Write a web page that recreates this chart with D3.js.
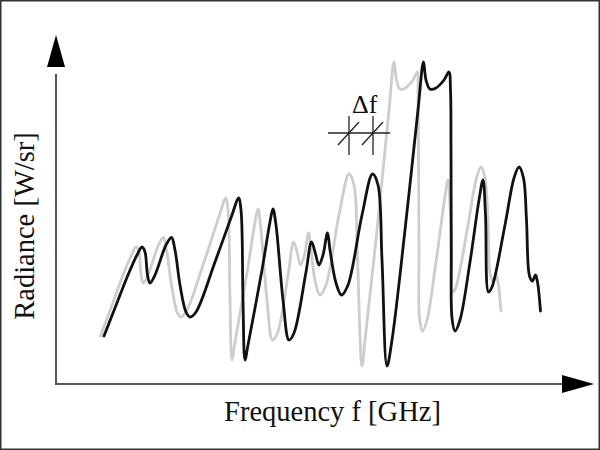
<!DOCTYPE html>
<html>
<head>
<meta charset="utf-8">
<script src="https://cdn.jsdelivr.net/npm/d3@7"></script>
<style>
  html, body { margin: 0; padding: 0; background: #fff; }
  svg { display: block; }
</style>
</head>
<body>
<svg id="chart" width="600" height="450"></svg>
<script>
// Measured spectrum (frequency in arbitrary units, radiance in arbitrary units)
const blackFreq = [48, 59, 72, 81, 86, 89, 91.5, 94, 99, 110, 115.5, 119, 124, 130, 134, 140, 159, 176, 182.5, 185, 187, 189, 192, 206, 214, 217, 220, 227, 233, 238, 250, 255.5, 259, 263, 267, 271.5, 274, 280, 285.5, 292, 306, 316.5, 322, 326, 331, 336, 349, 362, 367.5, 370, 374, 380, 388, 393, 394.5, 395, 395.3, 396, 399, 404, 414, 423, 427, 429.5, 432.5, 436, 449, 458, 463, 467.5, 470.5, 473.5, 476.5, 479.5, 481.5, 484.5];
const blackRad  = [48, 76, 109, 129, 137, 132, 109, 101, 109, 139, 146.5, 134, 99, 72, 67, 72, 122, 169, 186, 174, 84, 24, 39, 114, 162, 175, 159, 84, 44, 51, 112, 142, 132, 119, 129, 151, 134, 101, 89, 99, 169, 210, 199, 124, 18, 44, 154, 274, 322, 304, 295, 296, 304, 312, 294, 234, 134, 66, 53, 64, 122, 184, 204, 169, 92, 97, 159, 206, 217, 206, 164, 108, 103, 109, 102, 73];

// Frequency-shifted spectrum (by Δf)
const grayFreq = [44.5, 55, 67, 75.5, 80, 83, 85, 87.5, 92, 102.5, 107.5, 110.5, 115.5, 121, 124.5, 130, 148, 163.5, 169.5, 172, 174, 176, 178.5, 191.5, 199, 202, 204.5, 211, 216.5, 221.5, 232.5, 237.5, 241, 244.5, 248.5, 252.5, 255, 259.5, 264, 270, 283, 293, 298, 301.5, 306, 309, 321, 333, 338, 340.5, 344, 349.5, 357, 361.5, 362, 362.5, 363, 363.5, 366.5, 371, 380, 388.5, 392, 394.5, 397, 400, 412, 420.5, 425, 429, 432, 434.5, 437.5, 440, 442, 445];
const grayRad  = [48, 76, 109, 129, 137, 132, 109, 101, 109, 139, 146.5, 134, 99, 72, 67, 72, 122, 169, 186, 174, 84, 24, 39, 114, 162, 175, 159, 84, 44, 51, 112, 142, 132, 119, 129, 151, 134, 101, 89, 99, 169, 210, 199, 124, 18, 44, 154, 274, 322, 304, 295, 296, 304, 312, 294, 234, 134, 66, 53, 64, 122, 184, 204, 169, 92, 97, 159, 206, 217, 206, 164, 108, 103, 109, 102, 73];

// Δf marker positions (frequency units)
const deltaMarks = [293, 317];
const deltaLevel = 251;

const xLabel = "Frequency f [GHz]";
const yLabel = "Radiance [W/sr]";
const deltaLabel = "Δf";

const svg = d3.select("#chart");

const x = d3.scaleLinear().domain([0, 540]).range([56, 596]);
const y = d3.scaleLinear().domain([0, 350]).range([384, 34]);

// frame
svg.append("rect")
  .attr("x", 0.75).attr("y", 0.75).attr("width", 598.5).attr("height", 448.5)
  .attr("fill", "#fff").attr("stroke", "#333").attr("stroke-width", 1.5);

const line = d3.line()
  .x(d => x(d[0])).y(d => y(d[1]))
  .curve(d3.curveCatmullRom.alpha(0.5));

const gray = grayFreq.map((f, i) => [f, grayRad[i]]);
const black = blackFreq.map((f, i) => [f, blackRad[i]]);

svg.append("path").datum(gray)
  .attr("d", line).attr("fill", "none")
  .attr("stroke", "#cdcdcd").attr("stroke-width", 2.8)
  .attr("stroke-linejoin", "round").attr("stroke-linecap", "round");

svg.append("path").datum(black)
  .attr("d", line).attr("fill", "none")
  .attr("stroke", "#111").attr("stroke-width", 2.8)
  .attr("stroke-linejoin", "round").attr("stroke-linecap", "round");

// axes
const x0 = x(0), y0 = y(0);
svg.append("line").attr("x1", x0).attr("y1", y0).attr("x2", x0).attr("y2", y(310))
  .attr("stroke", "#555").attr("stroke-width", 2);
svg.append("line").attr("x1", x0 - 1).attr("y1", y0).attr("x2", x(510)).attr("y2", y0)
  .attr("stroke", "#555").attr("stroke-width", 2);

// arrowheads
const yTip = y(349), yBase = y(317);
svg.append("path")
  .attr("d", `M${x0},${yTip} L${x0 - 9},${yBase} L${x0 + 9},${yBase} Z`)
  .attr("fill", "#000");
const xTip = x(538), xBase = x(506);
svg.append("path")
  .attr("d", `M${xTip},${y0} L${xBase},${y0 - 9} L${xBase},${y0 + 9} Z`)
  .attr("fill", "#000");

// Δf annotation
const dg = svg.append("g").attr("stroke", "#222").attr("stroke-width", 1.3);
dg.append("line")
  .attr("x1", x(272)).attr("x2", x(334))
  .attr("y1", y(deltaLevel)).attr("y2", y(deltaLevel));
deltaMarks.forEach(m => {
  dg.append("line").attr("x1", x(m)).attr("x2", x(m))
    .attr("y1", y(deltaLevel + 17)).attr("y2", y(deltaLevel - 22));
  dg.append("line").attr("x1", x(m - 11)).attr("x2", x(m + 10))
    .attr("y1", y(deltaLevel - 12)).attr("y2", y(deltaLevel + 11));
});
svg.append("text")
  .attr("x", x(296)).attr("y", 113)
  .attr("font-family", "'Liberation Serif', 'DejaVu Serif', serif")
  .attr("font-size", 26).attr("fill", "#111")
  .text(deltaLabel);

// axis labels
svg.append("text")
  .attr("x", 332.5).attr("y", 421)
  .attr("text-anchor", "middle")
  .attr("font-family", "'Liberation Serif', 'DejaVu Serif', serif")
  .attr("font-size", 28.5).attr("fill", "#111")
  .text(xLabel);

svg.append("text")
  .attr("transform", "translate(34,226) rotate(-90)")
  .attr("text-anchor", "middle")
  .attr("font-family", "'Liberation Serif', 'DejaVu Serif', serif")
  .attr("font-size", 28.5).attr("fill", "#111")
  .text(yLabel);
</script>
</body>
</html>
